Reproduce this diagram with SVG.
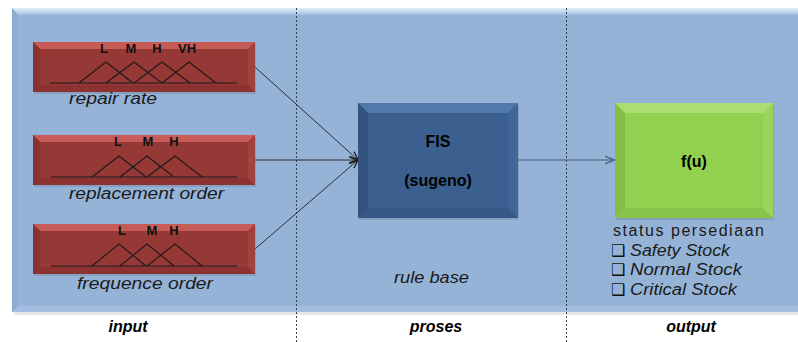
<svg xmlns="http://www.w3.org/2000/svg" width="798" height="342" viewBox="0 0 798 342">
  <style>
    .lbl { font-family: "Liberation Sans", Arial, sans-serif; fill: #1a1a1a; }
    .ital { font-style: italic; font-size: 16px; }
    .head { font-style: italic; font-weight: bold; font-size: 16px; fill: #000; }
    .mf-txt { font-weight: bold; font-size: 13px; fill: #111; text-anchor: middle; }
    .mf { fill: none; stroke: #1a1a1a; stroke-width: 1.1; }
    .box-txt { font-weight: bold; font-size: 16px; fill: #000; text-anchor: middle; }
    .chk { font-family: "DejaVu Sans", sans-serif; font-size: 16px; font-weight: bold; fill: #111; }
    .divider { stroke: #3a3f48; stroke-width: 1; stroke-dasharray: 2 2; }
    .conn { fill: none; stroke: #2b2f36; stroke-width: 1; }
    .conn-out { fill: none; stroke: #4a5a70; stroke-width: 1.2; }
  </style>
  <defs>
    <linearGradient id="panelTop" x1="0" y1="0" x2="0" y2="1">
      <stop offset="0" stop-color="#e3effc"/>
      <stop offset="1" stop-color="#a3bfe0"/>
    </linearGradient>
    <marker id="arrowIn" viewBox="0 0 10 10" refX="9.5" refY="5" markerWidth="9" markerHeight="9" orient="auto" markerUnits="userSpaceOnUse">
      <path d="M0,1 L10,5 L0,9" fill="none" stroke="#1a1a1a" stroke-width="1.4"/>
    </marker>
    <marker id="arrowOut" viewBox="0 0 10 10" refX="9.5" refY="5" markerWidth="10" markerHeight="10" orient="auto" markerUnits="userSpaceOnUse">
      <path d="M0,1 L10,5 L0,9" fill="none" stroke="#4a5a70" stroke-width="1.3"/>
    </marker>
    <!-- bevelled red input block, 222 x 50 -->
    <g id="redBlock">
      <rect x="1" y="2" width="222" height="50" fill="#6e7f96" opacity="0.35"/>
      <rect x="0" y="0" width="222" height="50" fill="#953836"/>
      <polygon points="0,0 222,0 215,7 7,7" fill="#c65b58"/>
      <polygon points="0,50 222,50 215,43 7,43" fill="#8c3331"/>
      <polygon points="0,0 7,7 7,43 0,50" fill="#8a3230"/>
      <polygon points="222,0 222,50 215,43 215,7" fill="#a3413f"/>
    </g>
  </defs>

  <!-- background panel -->
  <g id="panel">
    <rect x="14" y="12" width="786" height="303" fill="#c9cfd6" opacity="0.5"/>
    <rect x="12" y="8" width="786" height="304" fill="#95b3d7"/>
    <polygon points="12,8 798,8 798,15 18,15" fill="url(#panelTop)"/>
    <polygon points="12,8 18,15 18,306 12,312" fill="#8eadd2"/>
    <polygon points="12,312 798,312 798,306 18,306" fill="#a3bee0"/>
  </g>

  <!-- section dividers -->
  <g id="dividers">
    <line class="divider" x1="296.5" y1="8" x2="296.5" y2="342"/>
    <line class="divider" x1="566.5" y1="8" x2="566.5" y2="342"/>
  </g>

  <!-- connectors -->
  <g id="connectors">
    <line class="conn" x1="255" y1="67" x2="358" y2="160" marker-end="url(#arrowIn)"/>
    <line class="conn" x1="255" y1="160" x2="358" y2="160" marker-end="url(#arrowIn)"/>
    <line class="conn" x1="255" y1="249" x2="358" y2="160" marker-end="url(#arrowIn)"/>
    <line class="conn-out" x1="518" y1="160" x2="614" y2="160" marker-end="url(#arrowOut)"/>
  </g>

  <!-- input: repair rate -->
  <g id="repair-rate">
    <use href="#redBlock" x="33" y="42"/>
    <text class="lbl mf-txt" x="104" y="53">L</text>
    <text class="lbl mf-txt" x="131" y="53">M</text>
    <text class="lbl mf-txt" x="157" y="53">H</text>
    <text class="lbl mf-txt" x="187" y="53">VH</text>
    <line class="mf" x1="50" y1="83" x2="237" y2="83"/>
    <polyline class="mf" points="79,83 106,62 133,83"/>
    <polyline class="mf" points="106,83 134,62 162,83"/>
    <polyline class="mf" points="134,83 162,62 190,83"/>
    <polyline class="mf" points="162,83 189,62 216,83"/>
    <text class="lbl ital" x="69" y="104" textLength="88" lengthAdjust="spacingAndGlyphs">repair rate</text>
  </g>

  <!-- input: replacement order -->
  <g id="replacement-order">
    <use href="#redBlock" x="33" y="135"/>
    <text class="lbl mf-txt" x="118" y="146">L</text>
    <text class="lbl mf-txt" x="148" y="146">M</text>
    <text class="lbl mf-txt" x="174" y="146">H</text>
    <line class="mf" x1="51" y1="177" x2="237" y2="177"/>
    <polyline class="mf" points="92,177 119,156 146,177"/>
    <polyline class="mf" points="120,177 147,156 174,177"/>
    <polyline class="mf" points="147,177 175,156 202,177"/>
    <text class="lbl ital" x="69" y="199" textLength="155" lengthAdjust="spacingAndGlyphs">replacement order</text>
  </g>

  <!-- input: frequence order -->
  <g id="frequence-order">
    <use href="#redBlock" x="33" y="224"/>
    <text class="lbl mf-txt" x="122" y="235">L</text>
    <text class="lbl mf-txt" x="152" y="235">M</text>
    <text class="lbl mf-txt" x="174" y="235">H</text>
    <line class="mf" x1="51" y1="266" x2="237" y2="266"/>
    <polyline class="mf" points="92,266 119,244 146,266"/>
    <polyline class="mf" points="120,266 147,244 174,266"/>
    <polyline class="mf" points="147,266 175,244 202,266"/>
    <text class="lbl ital" x="77" y="289" textLength="136" lengthAdjust="spacingAndGlyphs">frequence  order</text>
  </g>

  <!-- process: FIS -->
  <g id="fis">
    <rect x="359" y="105" width="160" height="115" fill="#6e7f96" opacity="0.35"/>
    <rect x="358" y="103" width="160" height="115" fill="#3b5f8e"/>
    <polygon points="358,103 518,103 508,113 368,113" fill="#5279aa"/>
    <polygon points="358,218 518,218 508,208 368,208" fill="#375987"/>
    <polygon points="358,103 368,113 368,208 358,218" fill="#335381"/>
    <polygon points="518,103 518,218 508,208 508,113" fill="#416698"/>
    <text class="lbl box-txt" x="438" y="147">FIS</text>
    <text class="lbl box-txt" x="438" y="186">(sugeno)</text>
  </g>

  <g id="rule-base">
    <text class="lbl ital" x="394" y="283" textLength="75" lengthAdjust="spacingAndGlyphs">rule base</text>
  </g>

  <!-- output: f(u) -->
  <g id="fu">
    <rect x="616" y="105" width="158" height="115" fill="#6e7f96" opacity="0.35"/>
    <rect x="615" y="103" width="158" height="115" fill="#92d050"/>
    <polygon points="615,103 773,103 763,113 625,113" fill="#abdd72"/>
    <polygon points="615,218 773,218 763,208 625,208" fill="#88c34a"/>
    <polygon points="615,103 625,113 625,208 615,218" fill="#84bd48"/>
    <polygon points="773,103 773,218 763,208 763,113" fill="#98d558"/>
    <text class="lbl box-txt" x="694" y="167">f(u)</text>
  </g>

  <!-- output status list -->
  <g id="status">
    <text class="lbl" x="613" y="236" font-size="16" textLength="151" lengthAdjust="spacing">status  persediaan</text>
    <text class="chk" x="611" y="256">❑</text>
    <text class="lbl ital" x="630" y="256" textLength="100" lengthAdjust="spacingAndGlyphs">Safety Stock</text>
    <text class="chk" x="611" y="275">❑</text>
    <text class="lbl ital" x="630" y="275" textLength="112" lengthAdjust="spacingAndGlyphs">Normal Stock</text>
    <text class="chk" x="611" y="295">❑</text>
    <text class="lbl ital" x="630" y="295" textLength="107" lengthAdjust="spacingAndGlyphs">Critical Stock</text>
  </g>

  <!-- section headings -->
  <g id="headings">
    <text class="lbl head" x="128" y="332" text-anchor="middle">input</text>
    <text class="lbl head" x="436" y="332" text-anchor="middle">proses</text>
    <text class="lbl head" x="691" y="332" text-anchor="middle">output</text>
  </g>
</svg>
